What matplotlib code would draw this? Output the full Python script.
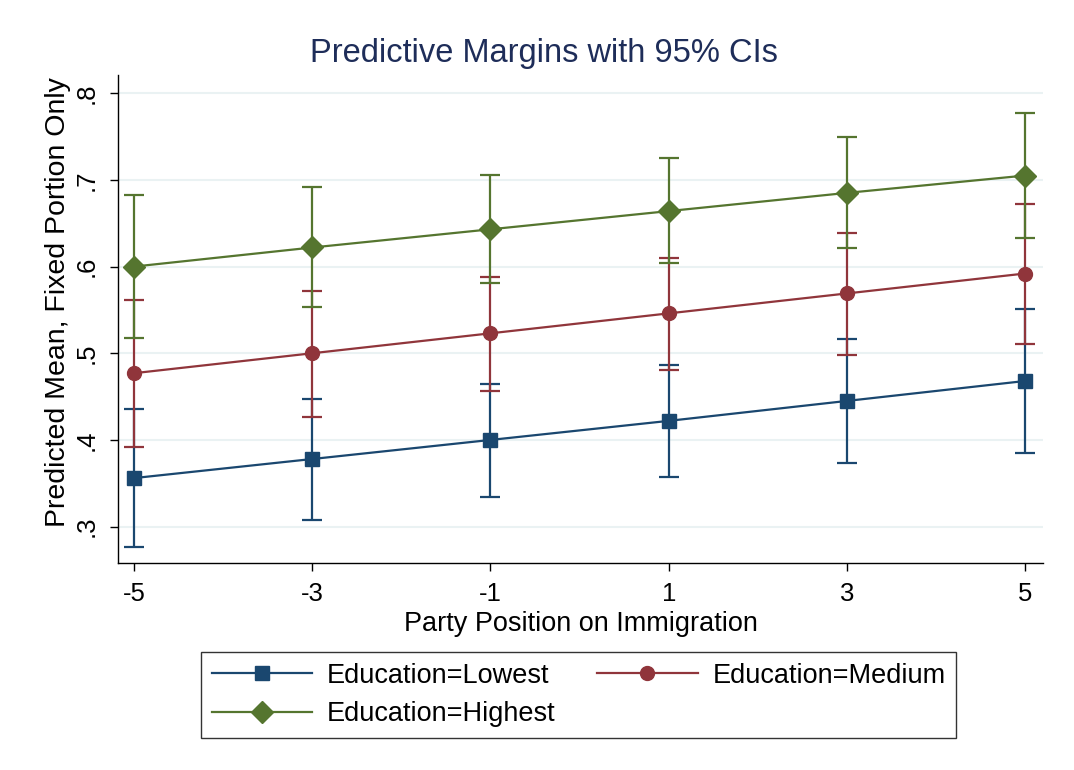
import matplotlib
matplotlib.use("Agg")
import matplotlib.pyplot as plt
import numpy as np

plt.rcParams['font.family'] = ['Liberation Sans', 'DejaVu Sans']

positions = [-5, -3, -1, 1, 3, 5]
series_names = ["Education=Lowest", "Education=Medium", "Education=Highest"]

lowest_mean = [0.356, 0.378, 0.400, 0.422, 0.445, 0.468]
lowest_lo = [0.277, 0.308, 0.334, 0.357, 0.373, 0.385]
lowest_hi = [0.436, 0.447, 0.464, 0.486, 0.516, 0.551]

medium_mean = [0.477, 0.500, 0.523, 0.546, 0.569, 0.592]
medium_lo = [0.392, 0.427, 0.457, 0.481, 0.498, 0.511]
medium_hi = [0.561, 0.572, 0.588, 0.610, 0.639, 0.672]

highest_mean = [0.600, 0.622, 0.643, 0.664, 0.685, 0.705]
highest_lo = [0.518, 0.553, 0.581, 0.604, 0.621, 0.633]
highest_hi = [0.682, 0.692, 0.706, 0.725, 0.750, 0.777]

yticks = [0.3, 0.4, 0.5, 0.6, 0.7, 0.8]
ytick_labels = [".3", ".4", ".5", ".6", ".7", ".8"]

colors = ["#1a476f", "#90353b", "#55752f"]
markers = ["s", "o", "D"]
msizes = [9.5, 10, 11]

fig = plt.figure(figsize=(10.74, 7.7), dpi=100)
ax = fig.add_axes([0.1099, 0.2688, 0.8612, 0.6338])

data = [(lowest_mean, lowest_lo, lowest_hi),
        (medium_mean, medium_lo, medium_hi),
        (highest_mean, highest_lo, highest_hi)]

handles = []
for (m, lo, hi), c, mk, ms, name in zip(data, colors, markers, msizes, series_names):
    m = np.array(m); lo = np.array(lo); hi = np.array(hi)
    ax.errorbar(positions, m, yerr=[m - lo, hi - m], fmt='none', ecolor=c,
                elinewidth=1.6, capsize=7, capthick=1.6, zorder=2)
    h, = ax.plot(positions, m, color=c, lw=1.6, marker=mk, markersize=ms,
                 markerfacecolor=c, markeredgecolor=c, label=name, zorder=3)
    handles.append(h)

ax.set_xlim(-5.18, 5.2)
ax.set_ylim(0.258, 0.821)
ax.set_xticks(positions)
ax.set_xticklabels([str(p) for p in positions], fontsize=18.5)
ax.set_yticks(yticks)
ax.set_yticklabels(ytick_labels, fontsize=18.5, rotation=90, va='center')
ax.tick_params(axis='both', direction='out', length=6, width=1, color='black')
ax.tick_params(axis='x', pad=8)
ax.tick_params(axis='y', pad=8)
ax.grid(axis='y', color='#eaf2f3', lw=1.5)
ax.set_axisbelow(True)
for s in ['top', 'right']:
    ax.spines[s].set_visible(False)
for s in ['left', 'bottom']:
    ax.spines[s].set_color('black')
    ax.spines[s].set_linewidth(1)

ax.set_xlabel("Party Position on Immigration", fontsize=19.5, labelpad=3)
ax.set_ylabel("Predicted Mean, Fixed Portion Only", fontsize=20.5)
ax.yaxis.set_label_coords(-0.051, 0.535)
fig.text(0.506, 0.93, "Predictive Margins with 95% CIs", fontsize=23.5,
         color='#1e2d59', ha='center', va='center')

leg_handles = [handles[0], handles[2], handles[1]]
leg = fig.legend(handles=leg_handles, loc='center', bbox_to_anchor=(0.5387, 0.0975),
                 ncol=2, fontsize=19.5, frameon=True, fancybox=False,
                 edgecolor='black', handlelength=3.7, columnspacing=1.55,
                 borderpad=0.4, labelspacing=0.45, handletextpad=0.55)
leg.get_frame().set_linewidth(1)

fig.savefig("out.png", dpi=100, facecolor='white')
